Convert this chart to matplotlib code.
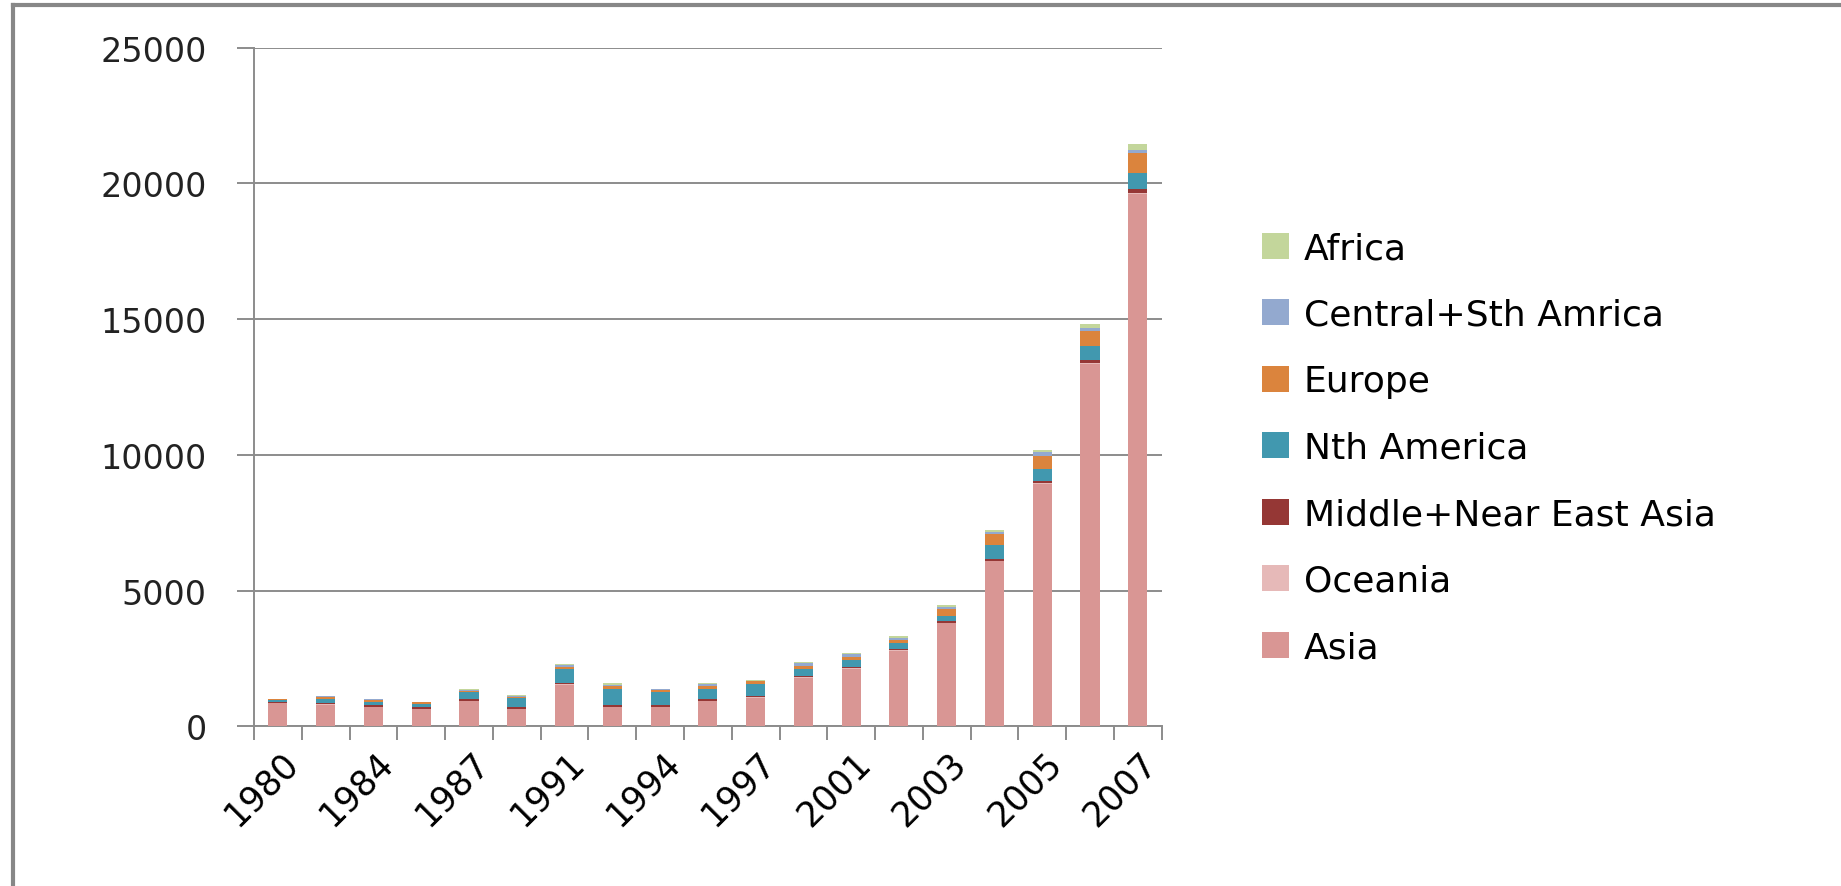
import numpy as np
import matplotlib
matplotlib.use("Agg")
import matplotlib.pyplot as plt
import matplotlib.transforms as mtransforms
from matplotlib.lines import Line2D

# years on the category axis (only every other one is labelled)
years = ["1980", "1982", "1984", "1986", "1987", "1989", "1991", "1993", "1994", "1996",
         "1997", "1999", "2001", "2002", "2003", "2004", "2005", "2006", "2007"]

asia     = [860, 800, 710, 640, 920, 640, 1530, 710, 710, 930, 1060, 1790, 2120, 2790, 3800, 6090, 8930, 13350, 19620]
oceania  = [10, 10, 10, 10, 10, 10, 15, 10, 10, 10, 10, 15, 15, 15, 20, 20, 25, 30, 40]
mid_east = [40, 50, 55, 50, 60, 70, 60, 70, 70, 60, 60, 60, 60, 60, 50, 60, 70, 100, 145]
nth_am   = [70, 135, 120, 135, 290, 330, 515, 590, 465, 390, 440, 255, 255, 195, 195, 515, 455, 520, 590]
europe   = [20, 85, 75, 45, 20, 20, 75, 95, 85, 95, 85, 120, 120, 135, 255, 405, 470, 565, 740]
csa      = [10, 20, 30, 20, 55, 65, 70, 60, 20, 60, 30, 80, 85, 70, 85, 85, 145, 115, 100]
africa   = [10, 15, 20, 15, 25, 35, 45, 45, 20, 40, 25, 60, 60, 60, 60, 50, 70, 130, 220]

series = [
    ("Asia", asia, "#D99694"),
    ("Oceania", oceania, "#E6B9B8"),
    ("Middle+Near East Asia", mid_east, "#953735"),
    ("Nth America", nth_am, "#4198AF"),
    ("Europe", europe, "#DB843D"),
    ("Central+Sth Amrica", csa, "#93A9CF"),
    ("Africa", africa, "#C3D69B"),
]

fig = plt.figure(figsize=(18.41, 8.87), dpi=100)
ax = fig.add_axes([0.138, 0.180, 0.493, 0.765])

x = np.arange(len(years))
bottom = np.zeros(len(years))
handles = []
for name, vals, col in series:
    b = ax.bar(x, vals, 0.4, bottom=bottom, color=col, label=name, zorder=3)
    handles.append(b)
    bottom += np.array(vals)

grey = "#8C8C8C"
ax.set_ylim(0, 25000)
ax.set_xlim(-0.5, len(years) - 0.5)
ax.set_yticks(np.arange(0, 25001, 5000))
ax.yaxis.grid(True, color=grey, linewidth=1.4, zorder=0)
ax.tick_params(axis="y", length=12, width=1.4, color=grey, labelsize=24, pad=22)
for lab in ax.get_yticklabels():
    lab.set_color("#222222")

ax.set_xticks(x[::2])
ax.set_xticklabels(years[::2], rotation=45, ha="right", va="center",
                   rotation_mode="anchor", fontsize=25)
ax.tick_params(axis="x", length=0, pad=22)
shift = mtransforms.ScaledTranslation(14 / 100, 0, fig.dpi_scale_trans)
for lab in ax.get_xticklabels():
    lab.set_transform(lab.get_transform() + shift)
ax.set_xticks(np.arange(-0.5, len(years), 1), minor=True)
ax.tick_params(axis="x", which="minor", length=10, width=1.4, color=grey)

for s in ["top", "right"]:
    ax.spines[s].set_visible(False)
for s in ["left", "bottom"]:
    ax.spines[s].set_color(grey)
    ax.spines[s].set_linewidth(1.4)

leg = fig.legend(handles[::-1], [s[0] for s in series][::-1],
                 loc="center left", bbox_to_anchor=(0.6855, 0.494),
                 frameon=False, fontsize=26, handlelength=0.75, handleheight=0.75,
                 handletextpad=0.4, labelspacing=0.9, borderpad=0, borderaxespad=0)

# outer chart border (left and top only visible)
fig.add_artist(Line2D([0.0068, 0.0068], [0.0, 0.993], color="#878787", linewidth=3))
fig.add_artist(Line2D([0.0068, 1.0], [0.993, 0.993], color="#878787", linewidth=3))

fig.savefig("out.png", dpi=100)
